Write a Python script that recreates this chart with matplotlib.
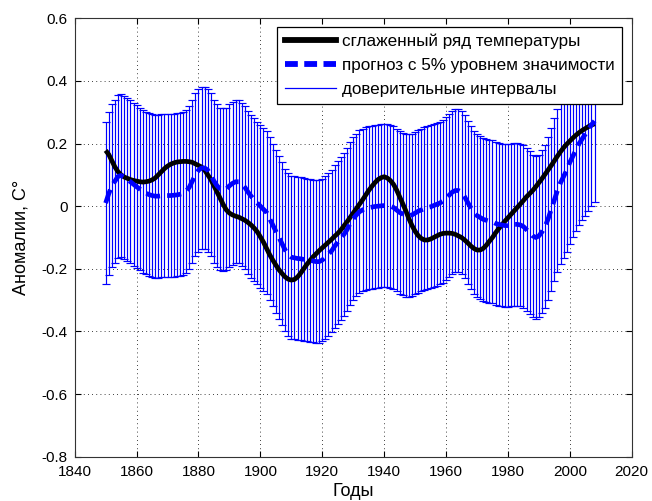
import matplotlib
matplotlib.use("Agg")
import matplotlib.pyplot as plt
from matplotlib.lines import Line2D
import numpy as np

years = list(range(1850, 2009))

smoothed = [
    0.178, 0.165, 0.145, 0.125, 0.110, 0.100, 0.093, 0.089, 0.085, 0.082,  # 1850-1859
    0.080, 0.078, 0.077, 0.078, 0.080, 0.084, 0.090, 0.100, 0.110, 0.120,  # 1860-1869
    0.128, 0.134, 0.138, 0.141, 0.142, 0.143, 0.143, 0.142, 0.140, 0.135,  # 1870-1879
    0.130, 0.125, 0.115, 0.100, 0.085, 0.065, 0.045, 0.025, 0.005, -0.012,  # 1880-1889
    -0.022, -0.028, -0.032, -0.035, -0.040, -0.045, -0.052, -0.060, -0.070, -0.082,  # 1890-1899
    -0.098, -0.115, -0.135, -0.155, -0.172, -0.188, -0.203, -0.215, -0.226, -0.233,  # 1900-1909
    -0.236, -0.234, -0.226, -0.214, -0.200, -0.186, -0.174, -0.162, -0.152, -0.142,  # 1910-1919
    -0.133, -0.124, -0.115, -0.106, -0.096, -0.087, -0.076, -0.063, -0.050, -0.036,  # 1920-1929
    -0.022, -0.008, 0.006, 0.020, 0.035, 0.050, 0.063, 0.075, 0.085, 0.091,  # 1930-1939
    0.094, 0.090, 0.082, 0.070, 0.052, 0.030, 0.008, -0.015, -0.040, -0.062,  # 1940-1949
    -0.080, -0.094, -0.103, -0.108, -0.108, -0.105, -0.100, -0.095, -0.090, -0.087,  # 1950-1959
    -0.086, -0.086, -0.087, -0.090, -0.095, -0.100, -0.108, -0.117, -0.127, -0.135,  # 1960-1969
    -0.140, -0.140, -0.135, -0.125, -0.112, -0.100, -0.085, -0.072, -0.060, -0.048,  # 1970-1979
    -0.037, -0.026, -0.015, -0.004, 0.007, 0.018, 0.030, 0.040, 0.050, 0.062,  # 1980-1989
    0.075, 0.088, 0.102, 0.116, 0.130, 0.145, 0.160, 0.174, 0.187, 0.198,  # 1990-1999
    0.208, 0.218, 0.227, 0.235, 0.242, 0.248, 0.254, 0.259, 0.263,  # 2000-2008
]

forecast = [
    0.010, 0.040, 0.065, 0.080, 0.095, 0.098, 0.092, 0.085, 0.078, 0.070,  # 1850-1859
    0.062, 0.055, 0.048, 0.042, 0.037, 0.034, 0.032, 0.032, 0.033, 0.034,  # 1860-1869
    0.034, 0.034, 0.035, 0.036, 0.038, 0.040, 0.048, 0.060, 0.080, 0.100,  # 1870-1879
    0.115, 0.122, 0.122, 0.115, 0.100, 0.080, 0.065, 0.055, 0.052, 0.055,  # 1880-1889
    0.065, 0.073, 0.078, 0.078, 0.070, 0.060, 0.045, 0.032, 0.020, 0.010,  # 1890-1899
    0.000, -0.010, -0.020, -0.040, -0.060, -0.080, -0.100, -0.120, -0.140, -0.155,  # 1900-1909
    -0.163, -0.165, -0.167, -0.168, -0.170, -0.172, -0.173, -0.175, -0.177, -0.177,  # 1910-1919
    -0.172, -0.163, -0.153, -0.143, -0.128, -0.115, -0.102, -0.090, -0.075, -0.055,  # 1920-1929
    -0.040, -0.028, -0.018, -0.012, -0.008, -0.005, -0.003, -0.001, 0.000, 0.001,  # 1930-1939
    0.002, 0.002, 0.000, -0.004, -0.012, -0.020, -0.025, -0.030, -0.030, -0.028,  # 1940-1949
    -0.022, -0.016, -0.012, -0.008, -0.004, -0.002, 0.002, 0.006, 0.010, 0.016,  # 1950-1959
    0.025, 0.035, 0.045, 0.050, 0.050, 0.045, 0.030, 0.012, -0.005, -0.020,  # 1960-1969
    -0.030, -0.036, -0.042, -0.045, -0.048, -0.050, -0.055, -0.058, -0.060, -0.062,  # 1970-1979
    -0.062, -0.060, -0.058, -0.058, -0.060, -0.065, -0.075, -0.085, -0.095, -0.100,  # 1980-1989
    -0.095, -0.082, -0.065, -0.040, -0.010, 0.020, 0.050, 0.075, 0.095, 0.115,  # 1990-1999
    0.140, 0.160, 0.180, 0.200, 0.215, 0.230, 0.245, 0.260, 0.272,  # 2000-2008
]

ci_half = 0.26  # half-width of the confidence interval

x_ticks = [1840, 1860, 1880, 1900, 1920, 1940, 1960, 1980, 2000, 2020]
y_ticks = [-0.8, -0.6, -0.4, -0.2, 0.0, 0.2, 0.4, 0.6]
y_tick_labels = ["-0.8", "-0.6", "-0.4", "-0.2", "0", "0.2", "0.4", "0.6"]

legend_labels = ["сглаженный ряд температуры",
                 "прогноз с 5% уровнем значимости",
                 "доверительные интервалы"]

plt.rcParams['font.family'] = ['Liberation Sans', 'DejaVu Sans']

fig = plt.figure(figsize=(6.52, 5.01), dpi=100)
ax = fig.add_axes([0.1146, 0.0884, 0.8543, 0.8751])

ax.errorbar(years, forecast, yerr=ci_half, fmt='none', ecolor='#0000ff',
            elinewidth=0.85, capsize=3.0, capthick=0.85, zorder=2)
ax.plot(years, smoothed, color='black', lw=3.4, solid_capstyle='butt', zorder=3)
ax.plot(years, forecast, color='#0000ff', lw=3.4, dashes=(3.0, 1.5), zorder=4)

ax.set_xlim(1840, 2020)
ax.set_ylim(-0.8, 0.6)
ax.set_xticks(x_ticks)
ax.set_yticks(y_ticks)
ax.set_yticklabels(y_tick_labels)
ax.tick_params(direction='in', top=True, right=True, length=4, width=0.8,
               labelsize=11)
ax.tick_params(axis='x', pad=6)
ax.tick_params(axis='y', pad=5)
ax.grid(True, color='black', linestyle=(0, (1, 4)), linewidth=0.6)
for s in ax.spines.values():
    s.set_linewidth(0.8)
    s.set_color('#333333')

ax.set_xlabel("Годы", fontsize=13, labelpad=3)
ax.set_ylabel("Аномалии, C°", fontsize=13, labelpad=9)

handles = [
    Line2D([], [], color='black', lw=4.2),
    Line2D([], [], color='#0000ff', lw=4.2, dashes=(2.2, 1.1)),
    Line2D([], [], color='#0000ff', lw=0.9),
]
leg = ax.legend(handles, legend_labels, loc='upper right',
                bbox_to_anchor=(0.982, 0.981), fontsize=12.3, fancybox=False,
                framealpha=1, edgecolor='black', handlelength=3.0,
                borderpad=0.42, labelspacing=0.52, handletextpad=0.35,
                borderaxespad=0.0)
leg.get_frame().set_linewidth(0.9)
leg.set_zorder(10)

fig.savefig("out.png", dpi=100)
